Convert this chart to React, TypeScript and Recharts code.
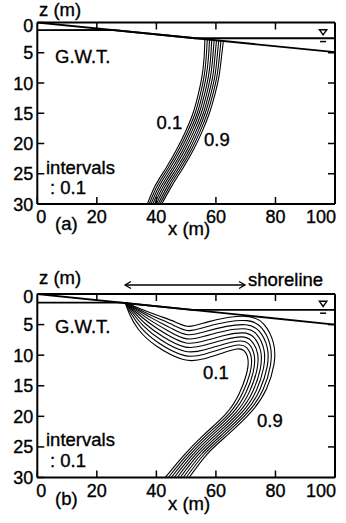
import React from 'react';
import { ComposedChart, Line, XAxis, YAxis, ReferenceDot } from 'recharts';

const FONT = '"Liberation Sans", Arial, Helvetica, sans-serif';

// axis ticks
const xTicks = [0, 20, 40, 60, 80, 100];
const zTicks = [0, 5, 10, 15, 20, 25, 30];
const topTicks = [20, 40, 60, 80];
const rightTicks = [5, 10, 15, 20, 25];

// (a) ground surface / water table, [x, z]
const groundA = [[0, 0], [100, 4.9]];
const waterA = [[0, 1.25], [25, 1.22], [53, 2.6], [100, 2.6]];

// (a) concentration contours 0.1 ... 0.9, [x, z]
const a01 = [[56.3, 2.76], [56, 6], [55.3, 9], [54, 12], [52.3, 15], [49.8, 18], [46.8, 21], [43.3, 24], [39.6, 27], [37, 30]];
const a02 = [[57.1, 2.8], [56.7, 6], [56.0, 9], [54.7, 12], [53.0, 15], [50.5, 18], [47.5, 21], [44.0, 24], [40.3, 27], [37.6, 30]];
const a03 = [[57.85, 2.84], [57.45, 6], [56.7, 9], [55.4, 12], [53.7, 15], [51.2, 18], [48.2, 21], [44.7, 24], [41.0, 27], [38.2, 30]];
const a04 = [[58.6, 2.87], [58.2, 6], [57.45, 9], [56.1, 12], [54.35, 15], [51.9, 18], [48.95, 21], [45.45, 24], [41.7, 27], [38.8, 30]];
const a05 = [[59.4, 2.91], [58.9, 6], [58.15, 9], [56.8, 12], [55.05, 15], [52.6, 18], [49.65, 21], [46.15, 24], [42.4, 27], [39.4, 30]];
const a06 = [[60.2, 2.95], [59.6, 6], [58.9, 9], [57.5, 12], [55.75, 15], [53.3, 18], [50.4, 21], [46.9, 24], [43.1, 27], [40.0, 30]];
const a07 = [[60.95, 2.99], [60.35, 6], [59.6, 9], [58.2, 12], [56.4, 15], [54.0, 18], [51.1, 21], [47.6, 24], [43.8, 27], [40.6, 30]];
const a08 = [[61.7, 3.02], [61.1, 6], [60.3, 9], [58.9, 12], [57.1, 15], [54.7, 18], [51.8, 21], [48.3, 24], [44.5, 27], [41.2, 30]];
const a09 = [[62.5, 3.06], [61.8, 6], [61, 9], [59.6, 12], [57.8, 15], [55.4, 18], [52.5, 21], [49, 24], [45.2, 27], [41.8, 30]];
const contoursA = [a01, a02, a03, a04, a05, a06, a07, a08, a09];

// (b) ground surface / water table
const groundB = [[0, 0], [100, 5.0]];
const waterB = [[0, 1.4], [28, 1.4], [52, 2.6], [100, 2.6]];

// (b) concentration contours 0.1 ... 0.9
const b01 = [[29.7, 1.65], [31, 3.3], [34, 5.8], [40, 8.5], [49, 10.7], [56, 10.6], [62.5, 9.6], [67, 9.0], [69.5, 9.3], [70.8, 10.8], [70.2, 13.2], [67.8, 16.3], [63.5, 19.5], [56, 23], [49, 26.5], [43, 30]];
const b02 = [[29.7, 1.63], [31.5, 3.2], [34.9, 5.53], [40.8, 8.01], [49.25, 10.03], [56.1, 9.85], [62.7, 8.88], [67.5, 8.34], [70.3, 8.75], [71.9, 10.45], [71.4, 13.0], [68.95, 16.2], [64.6, 19.46], [57, 23], [50, 26.46], [44, 30]];
const b03 = [[29.8, 1.6], [32, 3.1], [35.75, 5.25], [41.6, 7.53], [49.5, 9.35], [56.25, 9.1], [62.9, 8.16], [68, 7.68], [71.1, 8.2], [72.9, 10.1], [72.5, 12.8], [70.1, 16.1], [65.6, 19.43], [58, 23], [51, 26.43], [45, 30]];
const b04 = [[29.8, 1.58], [32.5, 3.0], [36.6, 4.98], [42.4, 7.04], [49.75, 8.68], [56.4, 8.35], [63.1, 7.44], [68.5, 7.01], [71.9, 7.65], [74, 9.75], [73.7, 12.55], [71.25, 16.0], [66.7, 19.39], [59, 23], [52, 26.39], [46, 30]];
const b05 = [[29.9, 1.55], [33, 2.9], [37.5, 4.7], [43.25, 6.55], [50, 8.0], [56.5, 7.6], [63.25, 6.73], [69, 6.35], [72.75, 7.1], [75.05, 9.4], [74.85, 12.35], [72.4, 15.9], [67.75, 19.35], [60, 23], [53, 26.35], [47, 30]];
const b06 = [[29.9, 1.53], [33.5, 2.8], [38.4, 4.43], [44.1, 6.06], [50.25, 7.33], [56.6, 6.85], [63.4, 6.0], [69.5, 5.69], [73.6, 6.55], [76.1, 9.05], [76.0, 12.1], [73.55, 15.8], [68.8, 19.31], [61, 23], [54, 26.31], [48, 30]];
const b07 = [[29.9, 1.5], [34, 2.7], [39.25, 4.15], [44.9, 5.58], [50.5, 6.65], [56.75, 6.1], [63.6, 5.29], [70, 5.03], [74.4, 6.0], [77.2, 8.7], [77.2, 11.9], [74.7, 15.7], [69.9, 19.28], [62, 23], [55, 26.28], [49, 30]];
const b08 = [[30.0, 1.48], [34.5, 2.6], [40.1, 3.88], [45.7, 5.09], [50.75, 5.98], [56.9, 5.35], [63.8, 4.57], [70.5, 4.36], [75.2, 5.45], [78.2, 8.35], [78.3, 11.7], [75.85, 15.6], [70.9, 19.24], [63, 23], [56, 26.24], [50, 30]];
const b09 = [[30.0, 1.45], [35, 2.5], [41, 3.6], [46.5, 4.6], [51, 5.3], [57, 4.6], [64, 3.85], [71, 3.7], [76, 4.9], [79.3, 8.0], [79.5, 11.5], [77, 15.5], [72, 19.2], [64, 23], [57, 26.2], [51, 30]];
const contoursB = [b01, b02, b03, b04, b05, b06, b07, b08, b09];

// sea level mark position
const seaMark = { x: 96, z: 1.6 };

const toPts = (arr: number[][]) => arr.map(([x, z]) => ({ x, z }));

const axisLineStyle = { stroke: '#000', strokeWidth: 2 };
const tickLineStyle = { stroke: '#000', strokeWidth: 1.5 };

const renderXTick = (props: any) => {
  const { x, y, payload } = props;
  const v = payload.value;
  const anchor = v === 0 ? 'start' : v === 100 ? 'end' : 'middle';
  const dx = v === 0 ? -1 : v === 100 ? 1 : 0;
  return (
    <text x={x + dx} y={y + 19} textAnchor={anchor} fontSize={18} fontFamily={FONT}
      fill="#000" stroke="#000" strokeWidth={0.35}>
      {v}
    </text>
  );
};

const renderZTick = (props: any) => {
  const { x, y, payload } = props;
  const v = payload.value;
  return (
    <text x={x - 4} y={y + (v === 0 ? 9 : 6.5)} textAnchor="end" fontSize={18} fontFamily={FONT}
      fill="#000" stroke="#000" strokeWidth={0.35}>
      {v}
    </text>
  );
};

const emptyTick = () => <g />;

const SeaSymbol = (props: any) => {
  const { cx, cy } = props;
  return (
    <g>
      <polygon points={`${cx - 3.7},${cy - 2.5} ${cx + 3.7},${cy - 2.5} ${cx},${cy + 2.7}`} fill="none" stroke="#000" strokeWidth={1.4} />
      <line x1={cx - 3} x2={cx + 3} y1={cy + 9.4} y2={cy + 9.4} stroke="#000" strokeWidth={1.5} />
    </g>
  );
};

interface PanelProps {
  top: number;
  height: number;
  margin: { top: number; right: number; bottom: number; left: number };
  contours: number[][][];
  ground: number[][];
  water: number[][];
}

const Panel = ({ top, height, margin, contours, ground, water }: PanelProps) => (
  <div style={{ position: 'absolute', left: 0, top }}>
    <ComposedChart width={346} height={height} margin={margin}>
      <XAxis xAxisId="bottom" type="number" dataKey="x" domain={[0, 100]} ticks={xTicks} interval={0}
        allowDataOverflow height={20} tickSize={-7} tickMargin={7} tick={renderXTick}
        axisLine={axisLineStyle} tickLine={tickLineStyle} />
      <XAxis xAxisId="top" orientation="top" type="number" dataKey="x" domain={[0, 100]} ticks={topTicks} interval={0}
        allowDataOverflow height={1} tickSize={-7} tick={emptyTick}
        axisLine={axisLineStyle} tickLine={tickLineStyle} />
      <YAxis yAxisId="left" type="number" dataKey="z" domain={[0, 30]} reversed ticks={zTicks} interval={0}
        allowDataOverflow width={30} tickSize={-7} tickMargin={7} tick={renderZTick}
        axisLine={axisLineStyle} tickLine={tickLineStyle} />
      <YAxis yAxisId="right" orientation="right" type="number" dataKey="z" domain={[0, 30]} reversed ticks={rightTicks} interval={0}
        allowDataOverflow width={1} tickSize={-7} tick={emptyTick}
        axisLine={axisLineStyle} tickLine={tickLineStyle} />
      <Line xAxisId="bottom" yAxisId="left" data={toPts(ground)} dataKey="z" type="linear" dot={false} activeDot={false}
        stroke="#000" strokeWidth={1.8} isAnimationActive={false} />
      <Line xAxisId="bottom" yAxisId="left" data={toPts(water)} dataKey="z" type="linear" dot={false} activeDot={false}
        stroke="#000" strokeWidth={1.8} isAnimationActive={false} />
      {contours.map((c, i) => (
        <Line key={`c-${i}`} xAxisId="bottom" yAxisId="left" data={toPts(c)} dataKey="z" type="natural"
          dot={false} activeDot={false} stroke="#000" strokeWidth={1.1} isAnimationActive={false} />
      ))}
      <ReferenceDot xAxisId="bottom" yAxisId="left" x={seaMark.x} y={seaMark.z} r={4} shape={SeaSymbol} />
    </ComposedChart>
  </div>
);

const T = ({ x, y, children }: { x: number; y: number; children: React.ReactNode }) => (
  <text x={x} y={y} fontSize={18.5} fontFamily={FONT} fill="#000" stroke="#000" strokeWidth={0.35}>{children}</text>
);

export default function App() {
  return (
    <div style={{ position: 'absolute', left: 0, top: 0, width: 346, height: 523, background: '#fff' }}>
      <Panel top={0} height={240} margin={{ top: 21.5, right: 10, bottom: 16, left: 7.3 }}
        contours={contoursA} ground={groundA} water={waterA} />
      <Panel top={260} height={263} margin={{ top: 33, right: 10, bottom: 25.5, left: 7.3 }}
        contours={contoursB} ground={groundB} water={waterB} />
      <svg width={346} height={523} style={{ position: 'absolute', left: 0, top: 0, pointerEvents: 'none' }}>
        {/* panel (a) */}
        <T x={39} y={15.5}>z (m)</T>
        <T x={55} y={62.5}>G.W.T.</T>
        <T x={156.5} y={128.5}>0.1</T>
        <T x={204} y={146}>0.9</T>
        <T x={46} y={173.5}>intervals</T>
        <T x={50} y={194}>: 0.1</T>
        <T x={55} y={229.5}>(a)</T>
        <T x={168} y={234.5}>x (m)</T>
        {/* panel (b) */}
        <T x={39} y={284}>z (m)</T>
        <line x1={125} x2={245} y1={285} y2={285} stroke="#000" strokeWidth={1.3} />
        <polyline points="131,281.5 125,285 131,288.5" fill="none" stroke="#000" strokeWidth={1.3} />
        <polyline points="239,281.5 245,285 239,288.5" fill="none" stroke="#000" strokeWidth={1.3} />
        <T x={248} y={286}>shoreline</T>
        <T x={55} y={332.5}>G.W.T.</T>
        <T x={203} y={379}>0.1</T>
        <T x={257} y={426.5}>0.9</T>
        <T x={46} y={446}>intervals</T>
        <T x={50} y={467}>: 0.1</T>
        <T x={55} y={504.5}>(b)</T>
        <T x={168} y={509.5}>x (m)</T>
      </svg>
    </div>
  );
}
